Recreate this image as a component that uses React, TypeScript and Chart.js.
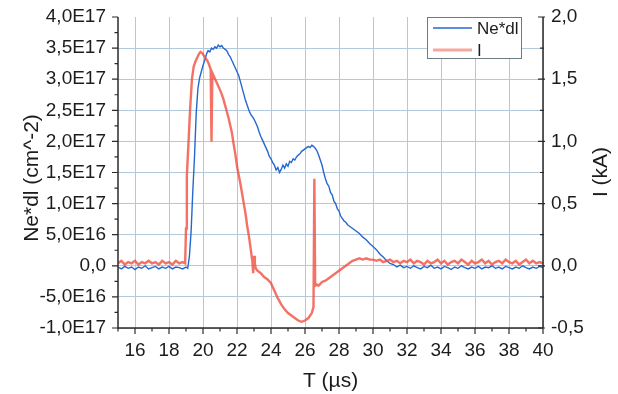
import { useEffect, useRef } from "react";
import { Chart, registerables } from "chart.js";

Chart.register(...registerables);

// Time axis (µs) and tick values
const timeTicks = [16, 18, 20, 22, 24, 26, 28, 30, 32, 34, 36, 38, 40];
const neTicks = [-1, -0.5, 0, 0.5, 1, 1.5, 2, 2.5, 3, 3.5, 4];
const neTickLabels = ["-1,0E17", "-5,0E16", "0,0", "5,0E16", "1,0E17", "1,5E17", "2,0E17", "2,5E17", "3,0E17", "3,5E17", "4,0E17"];
const iTicks = [-0.5, 0, 0.5, 1, 1.5, 2];
const iTickLabels = ["-0,5", "0,0", "0,5", "1,0", "1,5", "2,0"];
const seriesLabels = ["Ne*dl", "I"];

// Line density Ne*dl, in units of 1E17 cm^-2
const neTime = [
  15.0, 15.2, 15.4, 15.6, 15.8, 16.0, 16.2, 16.4, 16.6, 16.8, 17.0, 17.2, 17.4, 17.6, 17.8,
  18.0, 18.2, 18.4, 18.6, 18.8, 19.0, 19.1, 19.2, 19.3, 19.4, 19.5, 19.6, 19.7, 19.8, 19.9,
  20.0, 20.1, 20.2, 20.3, 20.4, 20.5, 20.6, 20.7, 20.8, 20.9, 21.0, 21.1, 21.2, 21.3, 21.4,
  21.5, 21.6, 21.7, 21.8, 21.9, 22.0, 22.1, 22.2, 22.3, 22.4, 22.5, 22.6, 22.7, 22.8, 22.9,
  23.0, 23.1, 23.2, 23.3, 23.4, 23.5, 23.6, 23.7, 23.8, 23.9, 24.0, 24.1, 24.2, 24.3, 24.4,
  24.5, 24.6, 24.7, 24.8, 24.9, 25.0, 25.1, 25.2, 25.3, 25.4, 25.5, 25.6, 25.7, 25.8, 25.9,
  26.0, 26.1, 26.2, 26.3, 26.4, 26.5, 26.6, 26.7, 26.8, 26.9, 27.0, 27.1, 27.2, 27.3, 27.4,
  27.5, 27.6, 27.7, 27.8, 27.9, 28.0, 28.1, 28.2, 28.3, 28.4, 28.5, 28.6, 28.7, 28.8, 28.9,
  29.0, 29.2, 29.4, 29.6, 29.8, 30.0, 30.2, 30.4, 30.6, 30.8, 31.0, 31.2, 31.4, 31.6, 31.8,
  32.0, 32.2, 32.4, 32.6, 32.8, 33.0, 33.2, 33.4, 33.6, 33.8, 34.0, 34.2, 34.4, 34.6, 34.8,
  35.0, 35.2, 35.4, 35.6, 35.8, 36.0, 36.2, 36.4, 36.6, 36.8, 37.0, 37.2, 37.4, 37.6, 37.8,
  38.0, 38.2, 38.4, 38.6, 38.8, 39.0, 39.2, 39.4, 39.6, 39.8, 40.0,
];
const neValue = [
  -0.02, -0.05, -0.01, -0.04, -0.02, -0.06, -0.02, -0.04, 0.0, -0.05, -0.03, -0.01, -0.05, -0.02, -0.04,
  -0.01, -0.05, -0.02, -0.03, -0.05, -0.02, -0.04, 0.15, 0.55, 1.2, 1.75, 2.45, 2.85, 3.02, 3.12,
  3.22, 3.3, 3.4, 3.46, 3.44, 3.5, 3.48, 3.52, 3.5, 3.55, 3.52, 3.54, 3.5, 3.48, 3.46,
  3.4, 3.36, 3.3, 3.24, 3.18, 3.12, 3.06, 2.96, 2.86, 2.76, 2.66, 2.58, 2.5, 2.44, 2.4,
  2.36, 2.3, 2.24, 2.15, 2.08, 2.02, 1.96, 1.9, 1.84, 1.76, 1.72, 1.66, 1.62, 1.54, 1.58,
  1.5, 1.55, 1.62, 1.57, 1.64, 1.6, 1.68, 1.66, 1.72, 1.7, 1.75, 1.78, 1.8, 1.84, 1.86,
  1.88, 1.9, 1.92, 1.9, 1.94, 1.92, 1.89, 1.85, 1.78, 1.7, 1.62, 1.5, 1.4, 1.32, 1.28,
  1.18, 1.14, 1.04, 1.0, 0.92, 0.88, 0.8, 0.76, 0.72, 0.7, 0.66, 0.64, 0.62, 0.6, 0.58,
  0.56, 0.52, 0.46, 0.42, 0.36, 0.31, 0.26, 0.19, 0.14, 0.08, 0.04, 0.02, -0.02, 0.01, -0.03,
  -0.01, -0.04, 0.0, -0.03, -0.05, -0.01, -0.03, 0.01, -0.04, -0.02, -0.05, -0.01, -0.03, -0.06, -0.02,
  -0.04, 0.0, -0.03, -0.05, -0.02, -0.04, -0.01, -0.05, -0.02, -0.03, 0.0, -0.04, -0.02, -0.05, -0.01,
  -0.03, -0.05, -0.02, -0.04, 0.0, -0.03, -0.05, -0.02, -0.04, -0.01, -0.03,
];

// Current I, in kA
const iTime = [
  15.0, 15.2, 15.4, 15.6, 15.8, 16.0, 16.2, 16.4, 16.6, 16.8, 17.0, 17.2, 17.4, 17.6, 17.8,
  18.0, 18.2, 18.4, 18.6, 18.8, 18.95, 19.0, 19.05, 19.15, 19.25, 19.35, 19.45, 19.55, 19.65, 19.75,
  19.85, 19.95, 20.05, 20.15, 20.25, 20.35, 20.45, 20.5, 20.55, 20.65, 20.75, 20.85, 20.95, 21.1, 21.2,
  21.3, 21.4, 21.5, 21.6, 21.7, 21.8, 21.9, 22.0, 22.1, 22.2, 22.3, 22.4, 22.5, 22.6, 22.7,
  22.8, 22.9, 22.95, 23.0, 23.05, 23.1, 23.2, 23.4, 23.6, 23.8, 24.0, 24.2, 24.4, 24.6, 24.8,
  25.0, 25.2, 25.4, 25.6, 25.8, 26.0, 26.2, 26.4, 26.5, 26.55, 26.6, 26.7, 26.8, 27.0, 27.2,
  27.4, 27.6, 27.8, 28.0, 28.2, 28.4, 28.6, 28.8, 29.0, 29.2, 29.4, 29.6, 29.8, 30.0, 30.2,
  30.4, 30.6, 30.8, 31.0, 31.2, 31.4, 31.6, 31.8, 32.0, 32.2, 32.4, 32.6, 32.8, 33.0, 33.2,
  33.4, 33.6, 33.8, 34.0, 34.2, 34.4, 34.6, 34.8, 35.0, 35.2, 35.4, 35.6, 35.8, 36.0, 36.2,
  36.4, 36.6, 36.8, 37.0, 37.2, 37.4, 37.6, 37.8, 38.0, 38.2, 38.4, 38.6, 38.8, 39.0, 39.2,
  39.4, 39.6, 39.8, 40.0,
];
const iValue = [
  0.02, 0.04, 0.01, 0.03, 0.02, 0.04, 0.01, 0.03, 0.02, 0.04, 0.02, 0.03, 0.01, 0.04, 0.02,
  0.03, 0.01, 0.04, 0.02, 0.03, 0.02, 0.3, 0.72, 1.0, 1.28, 1.5, 1.6, 1.64, 1.67, 1.7,
  1.72, 1.71, 1.69, 1.67, 1.65, 1.62, 1.58, 1.0, 1.55, 1.52, 1.49, 1.46, 1.43, 1.38, 1.34,
  1.29, 1.24, 1.19, 1.13, 1.07, 0.98, 0.9, 0.8, 0.73, 0.66, 0.58, 0.5, 0.42, 0.32, 0.24,
  0.14, 0.04, -0.06, 0.08, 0.02, -0.02, -0.04, -0.06, -0.09, -0.11, -0.14, -0.2, -0.26, -0.31, -0.35,
  -0.38, -0.4, -0.42, -0.44, -0.45, -0.44, -0.42, -0.38, -0.33, 0.7, -0.16, -0.15, -0.16, -0.13, -0.12,
  -0.1, -0.08, -0.06, -0.04, -0.02, 0.0, 0.02, 0.04, 0.05, 0.06, 0.05, 0.06, 0.05, 0.05, 0.04,
  0.05, 0.03, 0.04, 0.05, 0.03, 0.04, 0.02, 0.04, 0.03, 0.05, 0.02, 0.04, 0.03, 0.01, 0.04,
  0.02, 0.03, 0.05, 0.02, 0.04, 0.01, 0.03, 0.04, 0.02, 0.05, 0.03, 0.01, 0.04, 0.02, 0.03,
  0.05, 0.02, 0.04, 0.01, 0.03, 0.04, 0.02, 0.05, 0.03, 0.02, 0.04, 0.01, 0.03, 0.05, 0.02,
  0.04, 0.02, 0.03, 0.02,
];

const FONT = "'Liberation Sans', Arial, sans-serif";
const TEXT = "#1c1c1c";
const AXIS = "#2b2b2b";
const GRID = "#b3c8d9";
const BLUE = "#2567cf";
const RED = "rgba(241, 78, 62, 0.8)";

function pairs(xs: number[], ys: number[]) {
  return xs.map((x, i) => ({ x, y: ys[i] }));
}

function midpoints(vals: number[]) {
  const out: number[] = [];
  for (let i = 0; i < vals.length - 1; i++) out.push((vals[i] + vals[i + 1]) / 2);
  return out;
}

// Axis lines, major/minor tick marks, axis titles and legend box
const framePlugin = {
  id: "frame",
  afterDraw(chart: any) {
    const { ctx, chartArea: a, scales } = chart;
    const sx = scales.x;
    const sl = scales.yNe;
    const sr = scales.yI;
    ctx.save();
    ctx.strokeStyle = AXIS;
    ctx.lineWidth = 1.5;
    ctx.beginPath();
    ctx.moveTo(a.left, a.top);
    ctx.lineTo(a.left, a.bottom);
    ctx.lineTo(a.right, a.bottom);
    ctx.moveTo(a.right, a.top);
    ctx.lineTo(a.right, a.bottom);
    ctx.stroke();

    ctx.lineWidth = 1.2;
    ctx.beginPath();
    const xMajor = [14, ...timeTicks];
    xMajor.forEach((v) => {
      if (v < 15) return;
      const p = sx.getPixelForValue(v);
      ctx.moveTo(p, a.bottom);
      ctx.lineTo(p, a.bottom + 6);
    });
    midpoints(xMajor).forEach((v) => {
      const p = sx.getPixelForValue(v);
      ctx.moveTo(p, a.bottom);
      ctx.lineTo(p, a.bottom + 3.5);
    });
    neTicks.forEach((v) => {
      const p = sl.getPixelForValue(v);
      ctx.moveTo(a.left - 6, p);
      ctx.lineTo(a.left, p);
    });
    midpoints(neTicks).forEach((v) => {
      const p = sl.getPixelForValue(v);
      ctx.moveTo(a.left - 3.5, p);
      ctx.lineTo(a.left, p);
    });
    iTicks.forEach((v) => {
      const p = sr.getPixelForValue(v);
      ctx.moveTo(a.right - 5, p);
      ctx.lineTo(a.right + 2, p);
    });
    midpoints(iTicks).forEach((v) => {
      const p = sr.getPixelForValue(v);
      ctx.moveTo(a.right - 3, p);
      ctx.lineTo(a.right + 1, p);
    });
    ctx.stroke();

    // axis titles
    ctx.fillStyle = TEXT;
    ctx.font = `21px ${FONT}`;
    ctx.textAlign = "center";
    ctx.textBaseline = "middle";
    ctx.fillText("T (µs)", (a.left + a.right) / 2, 381);
    ctx.save();
    ctx.translate(32, 178);
    ctx.rotate(-Math.PI / 2);
    ctx.fillText("Ne*dl (cm^-2)", 0, 0);
    ctx.restore();
    ctx.save();
    ctx.translate(601, 172);
    ctx.rotate(-Math.PI / 2);
    ctx.fillText("I (kA)", 0, 0);
    ctx.restore();

    // legend
    const bx = a.right - 116;
    const by = a.top;
    const bw = 94;
    const bh = 41;
    ctx.fillStyle = "#ffffff";
    ctx.fillRect(bx, by, bw, bh);
    ctx.strokeStyle = "#6f7a80";
    ctx.lineWidth = 1;
    ctx.strokeRect(bx + 0.5, by + 0.5, bw, bh);
    const rows = [
      { label: seriesLabels[0], color: BLUE, width: 1.4 },
      { label: seriesLabels[1], color: "rgba(240, 110, 95, 0.6)", width: 3 },
    ];
    ctx.font = `17px ${FONT}`;
    ctx.textAlign = "left";
    rows.forEach((r, i) => {
      const y = by + 11 + i * 22;
      ctx.strokeStyle = r.color;
      ctx.lineWidth = r.width;
      ctx.beginPath();
      ctx.moveTo(bx + 6, y);
      ctx.lineTo(bx + 45, y);
      ctx.stroke();
      ctx.fillStyle = TEXT;
      ctx.fillText(r.label, bx + 50, y + 1);
    });
    ctx.restore();
  },
};

export default function App() {
  const canvasRef = useRef<HTMLCanvasElement | null>(null);

  useEffect(() => {
    if (!canvasRef.current) return;
    const tickFont = { family: FONT, size: 19 };
    const chart = new Chart(canvasRef.current, {
      type: "line",
      data: {
        datasets: [
          {
            label: seriesLabels[0],
            data: pairs(neTime, neValue),
            borderColor: BLUE,
            borderWidth: 1.4,
            yAxisID: "yNe",
            order: 1,
          },
          {
            label: seriesLabels[1],
            data: pairs(iTime, iValue),
            borderColor: RED,
            borderWidth: 2.4,
            yAxisID: "yI",
            order: 0,
          },
        ],
      },
      options: {
        animation: false,
        responsive: false,
        layout: { padding: { top: 17, left: 0, right: 0, bottom: 0 } },
        elements: { point: { radius: 0 }, line: { tension: 0 } },
        plugins: { legend: { display: false }, tooltip: { enabled: false } },
        scales: {
          x: {
            type: "linear",
            min: 15,
            max: 40,
            afterBuildTicks: (s: any) => {
              s.ticks = timeTicks.map((v) => ({ value: v }));
            },
            afterFit: (s: any) => {
              s.height = 66;
            },
            border: { display: false },
            grid: { color: GRID, lineWidth: 1, tickLength: 8, tickColor: "rgba(0,0,0,0)" },
            ticks: {
              font: tickFont,
              color: TEXT,
              padding: 3,
              maxRotation: 0,
              autoSkip: false,
              callback: (v: any) => String(v),
            },
          },
          yNe: {
            type: "linear",
            position: "left",
            min: -1,
            max: 4,
            afterBuildTicks: (s: any) => {
              s.ticks = neTicks.map((v) => ({ value: v }));
            },
            afterFit: (s: any) => {
              s.width = 118;
            },
            border: { display: false },
            grid: {
              color: (c: any) => (c.tick && c.tick.value === 4 ? "rgba(0,0,0,0)" : GRID),
              lineWidth: 1,
              tickLength: 7,
              tickColor: "rgba(0,0,0,0)",
            },
            ticks: {
              font: tickFont,
              color: TEXT,
              padding: 5,
              autoSkip: false,
              callback: (v: any) => neTickLabels[neTicks.indexOf(Number(v))],
            },
          },
          yI: {
            type: "linear",
            position: "right",
            min: -0.5,
            max: 2,
            afterBuildTicks: (s: any) => {
              s.ticks = iTicks.map((v) => ({ value: v }));
            },
            afterFit: (s: any) => {
              s.width = 75;
            },
            border: { display: false },
            grid: { drawOnChartArea: false, tickLength: 4, tickColor: "rgba(0,0,0,0)" },
            ticks: {
              font: tickFont,
              color: TEXT,
              padding: 4,
              autoSkip: false,
              callback: (v: any) => iTickLabels[iTicks.indexOf(Number(v))],
            },
          },
        },
      },
      plugins: [framePlugin],
    });
    return () => chart.destroy();
  }, []);

  return (
    <div style={{ position: "absolute", left: 0, top: 0, width: 618, height: 394, background: "#ffffff" }}>
      <canvas ref={canvasRef} width={618} height={394} style={{ display: "block" }} />
    </div>
  );
}
